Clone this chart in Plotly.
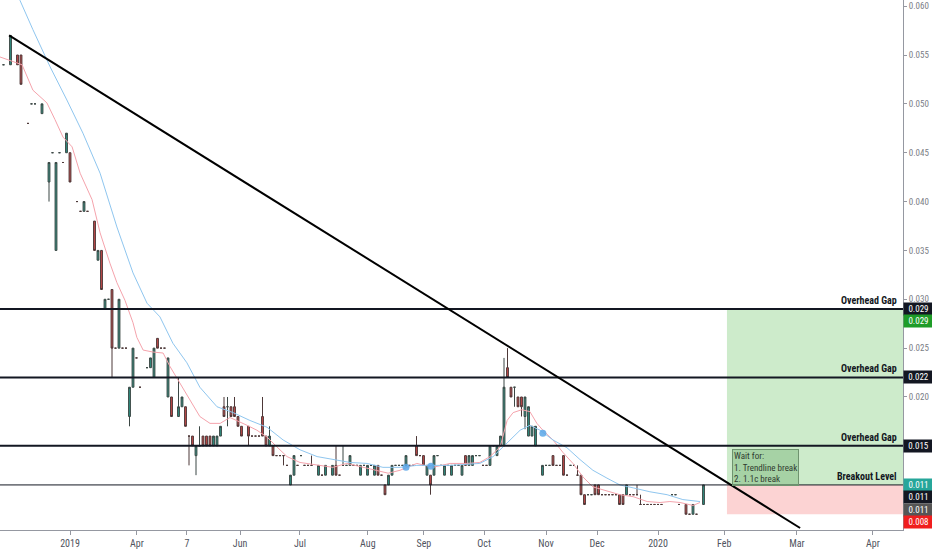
import plotly.graph_objects as go

# bar index (1 bar = one candle slot on the compressed TradingView time axis)
bars = [1, 3, 5, 6, 8, 9, 10, 12, 14, 15, 16, 17, 18, 19, 20, 22, 23, 24, 25, 27,
        28, 29, 30, 31, 32, 33, 34, 35, 36, 37, 38, 39, 40, 42, 43, 44, 45, 46, 47, 48,
        49, 51, 52, 53, 54, 55, 56, 57, 58, 59, 60, 61, 62, 63, 64, 65, 66, 67, 68, 69,
        71, 72, 73, 74, 75, 76, 77, 78, 79, 80, 81, 82, 83, 84, 85, 86, 87, 88, 89, 91,
        92, 93, 95, 96, 97, 98, 99, 100, 101, 102, 103, 104, 105, 106, 107, 108, 109, 110, 111, 112,
        113, 114, 115, 116, 117, 118, 119, 120, 121, 122, 123, 124, 125, 126, 127, 128, 129, 130, 131, 132,
        133, 134, 135, 136, 137, 138, 139, 140, 141, 142, 143, 144, 145, 146, 147, 148, 149, 150, 151, 152,
        153, 155, 156, 157, 158, 159, 160, 161, 162, 163, 164, 165, 166, 167, 168, 169, 170, 171, 172, 173,
        174, 175, 176, 177, 178, 179, 180, 181, 182, 183, 184, 185, 186, 187, 188, 189, 192, 193, 194, 196,
        197, 198, 199, 201]

opens = [.054, .054, .055, .055, .048, .050, .050, .049, .042, .045, .035, .045, .044, .045, .045, .040, .039, .039, .039, .038,
         .034, .035, .029, .030, .031, .025, .025, .025, .025, .018, .021, .024, .021, .023, .023, .022, .026, .025, .025, .020,
         .020, .018, .019, .019, .016, .016, .014, .015, .016, .016, .016, .015, .015, .016, .019, .019, .019, .019, .018, .017,
         .017, .016, .016, .016, .018, .016, .015, .015, .014, .014, .014, .013, .011, .012, .013, .014, .013, .013, .013, .012,
         .012, .012, .012, .013, .012, .013, .013, .013, .013, .013, .012, .013, .012, .013, .012, .013, .012, .011, .011, .012,
         .013, .013, .013, .013, .013, .013, .015, .014, .014, .012, .012, .012, .014, .013, .012, .013, .012, .013, .013, .012,
         .014, .013, .013, .014, .014, .013, .013, .013, .015, .014, .015, .015, .023, .021, .021, .020, .020, .018, .016, .016,
         .015, .012, .013, .013, .014, .013, .013, .014, .012, .013, .013, .012, .012, .010, .010, .010, .011, .011, .010, .010,
         .010, .010, .010, .010, .010, .010, .010, .010, .010, .009, .009, .009, .009, .009, .009, .009, .010, .010, .009, .009,
         .008, .008, .008, .009]

highs = [.054, .057, .055, .055, .048, .050, .050, .050, .044, .045, .044, .045, .044, .047, .045, .040, .039, .040, .039, .038,
         .035, .035, .030, .030, .031, .025, .030, .025, .025, .021, .025, .024, .021, .023, .024, .025, .026, .025, .025, .024,
         .020, .022, .020, .019, .016, .016, .015, .017, .016, .016, .016, .016, .016, .017, .020, .020, .019, .020, .018, .017,
         .017, .016, .016, .016, .020, .016, .017, .015, .014, .014, .014, .013, .012, .014, .013, .014, .013, .013, .014, .013,
         .012, .013, .013, .015, .012, .015, .013, .014, .013, .013, .013, .013, .013, .013, .013, .013, .012, .011, .012, .013,
         .013, .013, .013, .014, .013, .013, .016, .014, .014, .013, .012, .014, .014, .013, .013, .013, .013, .013, .013, .013,
         .014, .014, .014, .014, .014, .013, .013, .015, .015, .015, .016, .024, .025, .021, .021, .020, .020, .020, .019, .017,
         .017, .013, .013, .013, .014, .013, .013, .014, .012, .013, .013, .013, .012, .010, .010, .010, .011, .011, .010, .010,
         .010, .010, .010, .010, .010, .011, .010, .010, .011, .010, .009, .009, .009, .009, .009, .009, .010, .010, .009, .009,
         .008, .009, .008, .011]

lows = [.054, .054, .054, .052, .048, .050, .050, .049, .040, .045, .035, .045, .044, .045, .042, .040, .039, .039, .039, .035,
        .034, .031, .029, .030, .022, .025, .025, .025, .025, .017, .021, .024, .021, .023, .023, .022, .025, .025, .025, .020,
        .018, .018, .019, .017, .013, .015, .012, .015, .015, .015, .015, .015, .015, .016, .018, .017, .018, .018, .017, .016,
        .015, .016, .016, .016, .016, .015, .015, .014, .014, .014, .013, .013, .011, .012, .013, .014, .013, .013, .013, .012,
        .012, .012, .012, .012, .012, .013, .013, .013, .013, .013, .012, .013, .012, .013, .012, .012, .012, .010, .011, .012,
        .013, .013, .013, .013, .013, .013, .014, .014, .013, .012, .010, .012, .014, .013, .012, .013, .012, .013, .013, .012,
        .013, .013, .013, .014, .014, .013, .013, .013, .015, .014, .015, .015, .022, .020, .019, .019, .018, .0167, .016, .016,
        .015, .012, .013, .013, .013, .013, .013, .012, .012, .013, .013, .012, .010, .009, .010, .010, .010, .010, .010, .010,
        .010, .010, .010, .009, .009, .010, .010, .010, .010, .009, .009, .009, .009, .009, .009, .009, .010, .010, .009, .008,
        .008, .008, .008, .009]

closes = [.054, .057, .054, .052, .048, .050, .050, .050, .044, .045, .044, .045, .044, .047, .042, .040, .039, .040, .039, .035,
          .035, .031, .030, .030, .025, .025, .030, .025, .025, .021, .025, .024, .021, .023, .024, .025, .025, .025, .025, .024,
          .018, .019, .020, .017, .016, .015, .015, .015, .015, .015, .015, .016, .016, .017, .018, .019, .018, .018, .017, .016,
          .016, .016, .016, .016, .016, .015, .016, .014, .014, .014, .014, .013, .012, .014, .013, .014, .013, .013, .013, .013,
          .012, .013, .013, .012, .012, .013, .013, .014, .013, .013, .013, .013, .013, .013, .013, .012, .012, .010, .012, .013,
          .013, .013, .013, .014, .013, .013, .014, .014, .013, .013, .011, .014, .014, .013, .013, .013, .013, .013, .013, .013,
          .013, .014, .014, .014, .014, .013, .013, .015, .015, .015, .016, .021, .022, .020, .021, .019, .019, .020, .019, .017,
          .017, .013, .013, .013, .013, .013, .013, .012, .012, .013, .013, .012, .010, .009, .010, .010, .010, .010, .010, .010,
          .010, .010, .010, .009, .009, .011, .010, .010, .010, .009, .009, .009, .009, .009, .009, .009, .010, .010, .009, .008,
          .008, .009, .008, .011]

# fast moving average (pink)
fast_x = [0, 6.3, 9.4, 13.4, 15.7, 18, 20.6, 22.9, 26.3, 28.6, 31.4, 33.4, 35.7, 38, 39.1, 40.9, 43.7, 46.6, 48.6, 51.4,
          54.3, 57.1, 60, 62.9, 65.7, 67.7, 70.6, 73.4, 76.3, 79.1, 82, 85.7, 90.6, 95.1, 99.1, 103.7, 107.7, 110.9, 114.3, 119.1,
          123.7, 128.6, 133.4, 137.1, 140, 142.9, 144.9, 146.6, 149.1, 151.4, 153.4, 155.1, 158, 160.9, 163.7, 166.6, 169.4, 172.3, 177.1, 180.9,
          184.9, 188.6, 191.4, 194.3, 198, 200]
fast_y = [.0548, .0540, .0514, .0501, .0484, .0466, .0456, .0429, .0402, .0368, .0337, .0317, .0299, .0276, .0261, .0248, .0246, .0245, .0231, .0214,
          .0197, .0180, .0173, .0173, .0179, .0176, .0171, .0166, .0159, .0149, .0139, .0133, .0130, .0128, .0132, .0128, .0125, .0122, .0125, .0132,
          .0128, .0132, .0132, .0133, .0139, .0149, .0176, .0184, .0187, .0185, .0173, .0166, .0156, .0143, .0132, .0118, .0108, .0105, .0100, .0098,
          .0093, .0092, .0093, .0092, .0089, .0092]

# slow moving average (light blue)
slow_x = [4.5, 5.7, 9.4, 14.3, 19.1, 23.7, 28.6, 33.4, 38, 42, 45.7, 49.4, 53.4, 57.1, 62, 66.6, 71.4, 76.3, 80.9, 85.7,
          90.6, 95.1, 100, 104.9, 109.4, 114.3, 119.1, 128.6, 137.1, 140.9, 144.9, 148.6, 151.4, 154.3, 158, 162, 165.7, 169.4, 173.4, 177.1,
          180.9, 185.7, 190.6, 195.1, 200]
slow_y = [.0625, .0606, .0576, .0538, .0504, .0470, .0429, .0374, .0327, .0296, .0282, .0255, .0235, .0210, .0190, .0184, .0176, .0169, .0156, .0146,
          .0139, .0136, .0133, .0132, .0128, .0128, .0130, .0130, .0132, .0139, .0153, .0166, .0171, .0166, .0156, .0148, .0136, .0125, .0117, .0110,
          .0107, .0103, .0100, .0095, .0093]

cross_x = [116, 123.1, 155.1]
cross_y = [.0128, .0129, .0163]

gap_levels = [0.029, 0.022, 0.015]
breakout_level = 0.011
stop_level = 0.008
trend_start = (2.6, 0.0570)
trend_end = (228.6, 0.00659)

tick_bars = [20, 39.1, 53.4, 68.6, 85.7, 105.1, 121.1, 138.3, 156, 170.6, 188, 206.9, 227.7, 249.4]
tick_text = ["2019", "Apr", "7", "Jun", "Jul", "Aug", "Sep", "Oct", "Nov", "Dec", "2020", "Feb", "Mar", "Apr"]
price_ticks = [0.020, 0.025, 0.030, 0.035, 0.040, 0.045, 0.050, 0.055, 0.060]

# price tags on the right scale: (value shown, where it sits, colour)
tag_text = ["0.029", "0.029", "0.022", "0.015", "0.011", "0.011", "0.011", "0.008"]
tag_pos = [0.029, 0.02778, 0.022, 0.015, 0.011, 0.00976, 0.00843, 0.00721]
tag_color = ["#131722", "#1e9c28", "#131722", "#131722", "#26a69a", "#131722", "#555555", "#f01e1e"]

FONT = "Liberation Sans Narrow, Roboto Condensed, Arial Narrow, Roboto, sans-serif"
X_END = 258
ZONE_START = 207.7

fig = go.Figure()

fig.add_trace(go.Candlestick(
    x=bars, open=opens, high=highs, low=lows, close=closes,
    increasing=dict(fillcolor="#2f9283", line=dict(color="#3b4744", width=1)),
    decreasing=dict(fillcolor="#c64a4a", line=dict(color="#4d3838", width=1)),
    whiskerwidth=0, hoverinfo="skip", showlegend=False,
))

fig.add_trace(go.Scatter(x=fast_x, y=fast_y, mode="lines", line=dict(color="#f5a3ac", width=1),
                         hoverinfo="skip", showlegend=False))
fig.add_trace(go.Scatter(x=slow_x, y=slow_y, mode="lines", line=dict(color="#8fc6ef", width=1),
                         hoverinfo="skip", showlegend=False))
fig.add_trace(go.Scatter(x=cross_x, y=cross_y, mode="markers",
                         marker=dict(color="#5aa7e8", size=7, opacity=0.85),
                         hoverinfo="skip", showlegend=False))

# target / risk zones
fig.add_shape(type="rect", xref="x", yref="y", x0=ZONE_START, x1=X_END, y0=breakout_level, y1=gap_levels[0],
              fillcolor="#cdebcb", line=dict(width=0), layer="below")
fig.add_shape(type="rect", xref="x", yref="y", x0=ZONE_START, x1=X_END, y0=stop_level, y1=breakout_level,
              fillcolor="#fcd3d3", line=dict(width=0), layer="below")

for lvl in gap_levels:
    fig.add_shape(type="line", xref="paper", yref="y", x0=0, x1=1, y0=lvl, y1=lvl,
                  line=dict(color="#131722", width=2))
    fig.add_annotation(xref="paper", yref="y", x=0.996, y=lvl, text="<b>Overhead Gap</b>",
                       showarrow=False, xanchor="right", yanchor="bottom", yshift=1,
                       font=dict(family=FONT, size=10, color="#131722"))
fig.add_shape(type="line", xref="paper", yref="y", x0=0, x1=1, y0=breakout_level, y1=breakout_level,
              line=dict(color="#131722", width=1))
fig.add_annotation(xref="paper", yref="y", x=0.996, y=breakout_level, text="<b>Breakout Level</b>",
                   showarrow=False, xanchor="right", yanchor="bottom", yshift=1,
                   font=dict(family=FONT, size=10, color="#131722"))

# trendline
fig.add_shape(type="line", xref="x", yref="y", x0=trend_start[0], y0=trend_start[1],
              x1=trend_end[0], y1=trend_end[1], line=dict(color="#000000", width=2))

fig.add_annotation(xref="x", yref="y", x=ZONE_START + 1.4, y=0.01468,
                   text="Wait for:<br>1. Trendline break<br>2. 1.1c break",
                   showarrow=False, xanchor="left", yanchor="top", align="left",
                   bgcolor="rgba(120,180,120,0.45)", bordercolor="#6f936f", borderwidth=1, borderpad=1,
                   font=dict(family=FONT, size=9, color="#2f3a2f"))

for txt, pos, col in zip(tag_text, tag_pos, tag_color):
    fig.add_annotation(xref="paper", yref="y", x=1, y=pos, text=txt, showarrow=False,
                       xanchor="left", yanchor="middle", xshift=0, width=27, align="center",
                       bgcolor=col, borderpad=1, font=dict(family=FONT, size=9, color="#ffffff"))

fig.update_layout(
    width=932, height=550,
    margin=dict(l=0, r=29, t=0, b=20),
    paper_bgcolor="#ffffff", plot_bgcolor="#ffffff",
    boxgap=0.25,
    xaxis=dict(range=[0, X_END], rangeslider=dict(visible=False), showgrid=False, zeroline=False,
               tickmode="array", tickvals=tick_bars, ticktext=tick_text,
               showline=True, linecolor="#9598a1", linewidth=1,
               ticks="outside", ticklen=4, tickcolor="#9598a1",
               tickfont=dict(family=FONT, size=10, color="#50535e"), automargin=False),
    yaxis=dict(range=[0.006387, 0.06063], side="right", showgrid=False, zeroline=False,
               tickmode="array", tickvals=price_ticks, tickformat=".3f",
               showline=True, linecolor="#9598a1", linewidth=1,
               ticks="outside", ticklen=3, tickcolor="#9598a1",
               tickfont=dict(family=FONT, size=9, color="#7a7d86"), automargin=False),
    hovermode=False,
)

# the page body has a default 8px margin; drop it so the chart sits at the window origin
fig.write_html("out.html", config={"displayModeBar": False},
               post_script="document.body.style.margin='0';")
